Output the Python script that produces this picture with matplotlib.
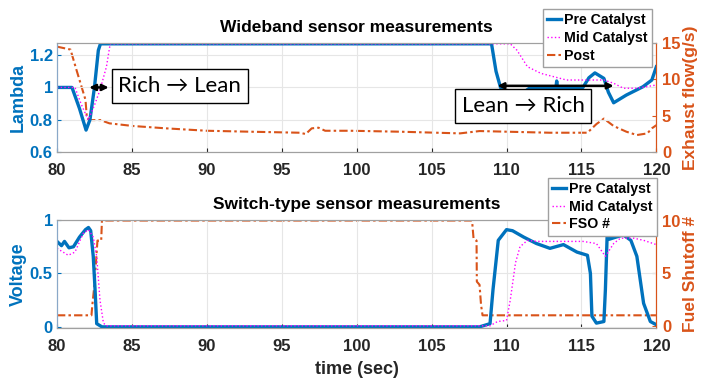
import numpy as np
import matplotlib
matplotlib.use('Agg')
import matplotlib.pyplot as plt

plt.rcParams['font.family'] = ['Liberation Sans', 'DejaVu Sans']
plt.rcParams['font.weight'] = 'bold'

BLUE = '#0072BD'
ORANGE = '#D95319'
MAGENTA = '#FF00FF'

# ---- wideband sensors (lambda) + exhaust flow ----
wb_pre_t = [80, 81.0, 81.5, 81.94, 82.2, 82.5, 82.76, 82.9, 109.0, 109.3, 109.6, 110.4, 111.0,
            111.6, 113.3, 113.35, 113.4, 115.1, 115.5, 115.9, 116.5, 116.8, 117.15, 118.0,
            119.1, 119.7, 120]
wb_pre = [1.0, 1.0, 0.87, 0.736, 0.80, 1.0, 1.23, 1.27, 1.27, 1.1, 1.0, 0.92, 0.96,
          1.0, 1.0, 1.04, 1.0, 1.0, 1.06, 1.09, 1.056, 0.97, 0.905, 0.953,
          1.004, 1.046, 1.128]

wb_mid_t = [80, 81.2, 81.6, 82.09, 82.5, 82.87, 83.3, 83.55, 110.25, 110.7, 111.4, 112.3,
            114.0, 116.5, 117.15, 117.8, 118.7, 120]
wb_mid = [1.0, 1.0, 0.9, 0.798, 0.89, 0.984, 1.128, 1.27, 1.27, 1.23, 1.128, 1.087,
          1.046, 1.046, 1.026, 0.995, 0.995, 1.015]

flow_t = [80, 80.9, 81.3, 81.9, 82.0, 82.3, 82.9, 83.5, 85.1, 87.3, 90.0, 92.9, 96.2, 96.6,
          97.0, 97.45, 97.9, 99.6, 102.9, 106.9, 108.2, 112.9, 115.4, 116.0, 116.5, 117.15,
          118.0, 118.7, 119.4, 119.7, 120]
flow = [14.5, 14.1, 11.3, 7.2, 4.6, 4.4, 4.4, 3.95, 3.58, 3.26, 2.93, 2.8, 2.66, 2.48,
        3.26, 3.35, 2.93, 2.93, 2.8, 2.57, 2.89, 2.66, 2.66, 3.85, 4.6, 3.58,
        2.8, 2.34, 2.57, 3.26, 3.7]

# ---- switch-type sensors (voltage) + fuel shutoff ----
sw_pre_t = [80, 80.3, 80.5, 80.8, 81.1, 81.5, 81.9, 82.1, 82.25, 82.42, 82.54, 82.65, 83.0,
            108.2, 108.9, 109.1, 109.45, 110.0, 110.4, 111.15, 112.0, 112.9, 113.8, 114.7,
            115.4, 115.6, 115.7, 116.0, 116.5, 116.6, 116.75, 116.85, 117.3, 117.8, 118.3,
            118.7, 119.15, 119.6, 120]
sw_pre = [0.80, 0.76, 0.80, 0.74, 0.75, 0.84, 0.91, 0.93, 0.90, 0.66, 0.35, 0.03, 0.0,
          0.0, 0.03, 0.35, 0.81, 0.91, 0.90, 0.84, 0.78, 0.735, 0.77, 0.70,
          0.67, 0.5, 0.10, 0.035, 0.05, 0.35, 1.0, 0.82, 0.84, 0.86, 0.81,
          0.66, 0.22, 0.05, 0.02]

sw_mid_t = [80, 80.75, 81.2, 81.75, 82.1, 82.42, 82.65, 82.87, 83.1, 83.3, 108.9, 109.4,
            110.0, 110.25, 110.6, 110.9, 111.4, 112.0, 115.1, 116.0, 116.6, 117.15, 117.6,
            118.5, 119.15, 120]
sw_mid = [0.735, 0.67, 0.70, 0.875, 0.91, 0.84, 0.66, 0.25, 0.035, 0.01, 0.01, 0.05,
          0.06, 0.25, 0.6, 0.75, 0.81, 0.80, 0.80, 0.78, 0.66, 0.78, 0.83,
          0.83, 0.81, 0.77]

fso_t = [80, 82.3, 82.36, 82.5, 82.7, 82.95, 83.0, 107.7, 107.8, 108.0, 108.02, 108.2,
         108.3, 108.4, 120]
fso = [1.0, 1.0, 2.0, 3.9, 8.1, 8.1, 10, 10, 8.3, 8.1, 4.2, 3.9, 2.0, 1.0, 1.0]

xticks = [80, 85, 90, 95, 100, 105, 110, 115, 120]
dashdot = (4, 1.5, 1.2, 1.5)

fig = plt.figure(figsize=(7.01, 3.84), dpi=100)
ax1 = fig.add_axes([0.0813, 0.604, 0.855, 0.284])
ax2 = fig.add_axes([0.0813, 0.146, 0.855, 0.281])


def style_axes(ax, axr, lticks, llabels, rticks, ylabel, rlabel):
    ax.set_xlim(80, 120)
    ax.set_xticks(xticks)
    ax.set_yticks(lticks)
    ax.set_yticklabels(llabels)
    axr.set_yticks(rticks)
    ax.grid(True, color='#e6e6e6', lw=0.8)
    ax.set_axisbelow(True)
    ax.tick_params(axis='x', colors='#262626', labelsize=12, direction='in', length=3, pad=8)
    ax.tick_params(axis='y', colors=BLUE, labelsize=12, direction='in', length=3, pad=3)
    axr.tick_params(axis='y', colors=ORANGE, labelsize=12, direction='in', length=3, pad=4)
    ax.set_ylabel(ylabel, color=BLUE, fontsize=13, fontweight='bold', labelpad=2)
    axr.set_ylabel(rlabel, color=ORANGE, fontsize=12.5, fontweight='bold', labelpad=2)
    for a in (ax, axr):
        for s in ('top', 'bottom'):
            a.spines[s].set_color('#a0a0a0')
        a.spines['left'].set_color('#8aa8c8')
        a.spines['right'].set_color(ORANGE)
    for lab in ax.get_xticklabels() + ax.get_yticklabels() + axr.get_yticklabels():
        lab.set_fontweight('bold')


def legend_at(ax, handles, anchor):
    leg = ax.legend(handles=handles, loc='upper left', bbox_to_anchor=anchor,
                    fontsize=10.2, handlelength=1.0, handletextpad=0.2, borderpad=0.3,
                    labelspacing=0.25, fancybox=False, framealpha=1, edgecolor='#a0a0a0',
                    borderaxespad=0)
    for t in leg.get_texts():
        t.set_fontweight('bold')
    return leg


# top panel
ax1r = ax1.twinx()
l1, = ax1.plot(wb_pre_t, wb_pre, color=BLUE, lw=2.4, label='Pre Catalyst')
l2, = ax1.plot(wb_mid_t, wb_mid, color=MAGENTA, lw=1.0, ls=':', label='Mid Catalyst')
l3, = ax1r.plot(flow_t, flow, color=ORANGE, lw=1.5, dashes=dashdot, label='Post')
ax1.set_ylim(0.6, 1.275)
ax1r.set_ylim(0, 15)
style_axes(ax1, ax1r, [0.6, 0.8, 1.0, 1.2], ['0.6', '0.8', '1', '1.2'], [0, 5, 10, 15],
           'Lambda', 'Exhaust flow(g/s)')
ax1.set_title('Wideband sensor measurements', fontsize=12.5, fontweight='bold', pad=8)
ax1.set_zorder(ax1r.get_zorder() + 1)
ax1.patch.set_visible(False)
legend_at(ax1, [l1, l2, l3], (0.811, 1.31))

box_font = ['Lato', 'DejaVu Sans']
ax1.annotate('', xy=(82.15, 1.0), xytext=(83.45, 1.0),
             arrowprops=dict(arrowstyle='<|-|>', color='black', lw=1.8,
                             mutation_scale=9, shrinkA=0, shrinkB=0))
ax1.text(88.2, 1.009, 'Rich \u2192 Lean', fontsize=16, family=box_font, fontweight='normal',
         ha='center', va='center',
         bbox=dict(boxstyle='square,pad=0.3', fc='white', ec='black', lw=1.0))
ax1.annotate('', xy=(109.4, 1.01), xytext=(117.15, 1.01),
             arrowprops=dict(arrowstyle='<|-|>', color='black', lw=1.8,
                             mutation_scale=9, shrinkA=0, shrinkB=0))
ax1.text(111.1, 0.885, 'Lean \u2192 Rich', fontsize=16, family=box_font, fontweight='normal',
         ha='center', va='center',
         bbox=dict(boxstyle='square,pad=0.3', fc='white', ec='black', lw=1.0))

# bottom panel
ax2r = ax2.twinx()
m1, = ax2.plot(sw_pre_t, sw_pre, color=BLUE, lw=2.4, label='Pre Catalyst')
m2, = ax2.plot(sw_mid_t, sw_mid, color=MAGENTA, lw=1.0, ls=':', label='Mid Catalyst')
m3, = ax2r.plot(fso_t, fso, color=ORANGE, lw=1.5, dashes=dashdot, label='FSO #')
ax2.set_ylim(-0.01, 1.0)
ax2r.set_ylim(-0.2, 10.05)
style_axes(ax2, ax2r, [0, 0.5, 1.0], ['0', '0.5', '1'], [0, 5, 10],
           'Voltage', 'Fuel Shutoff #')
ax2.set_title('Switch-type sensor measurements', fontsize=12.5, fontweight='bold', pad=8)
ax2.set_xlabel('time (sec)', fontsize=13, fontweight='bold', color='#262626', labelpad=5)
ax2.set_zorder(ax2r.get_zorder() + 1)
ax2.patch.set_visible(False)
legend_at(ax2, [m1, m2, m3], (0.8185, 1.39))

fig.savefig('out.png', dpi=100)
